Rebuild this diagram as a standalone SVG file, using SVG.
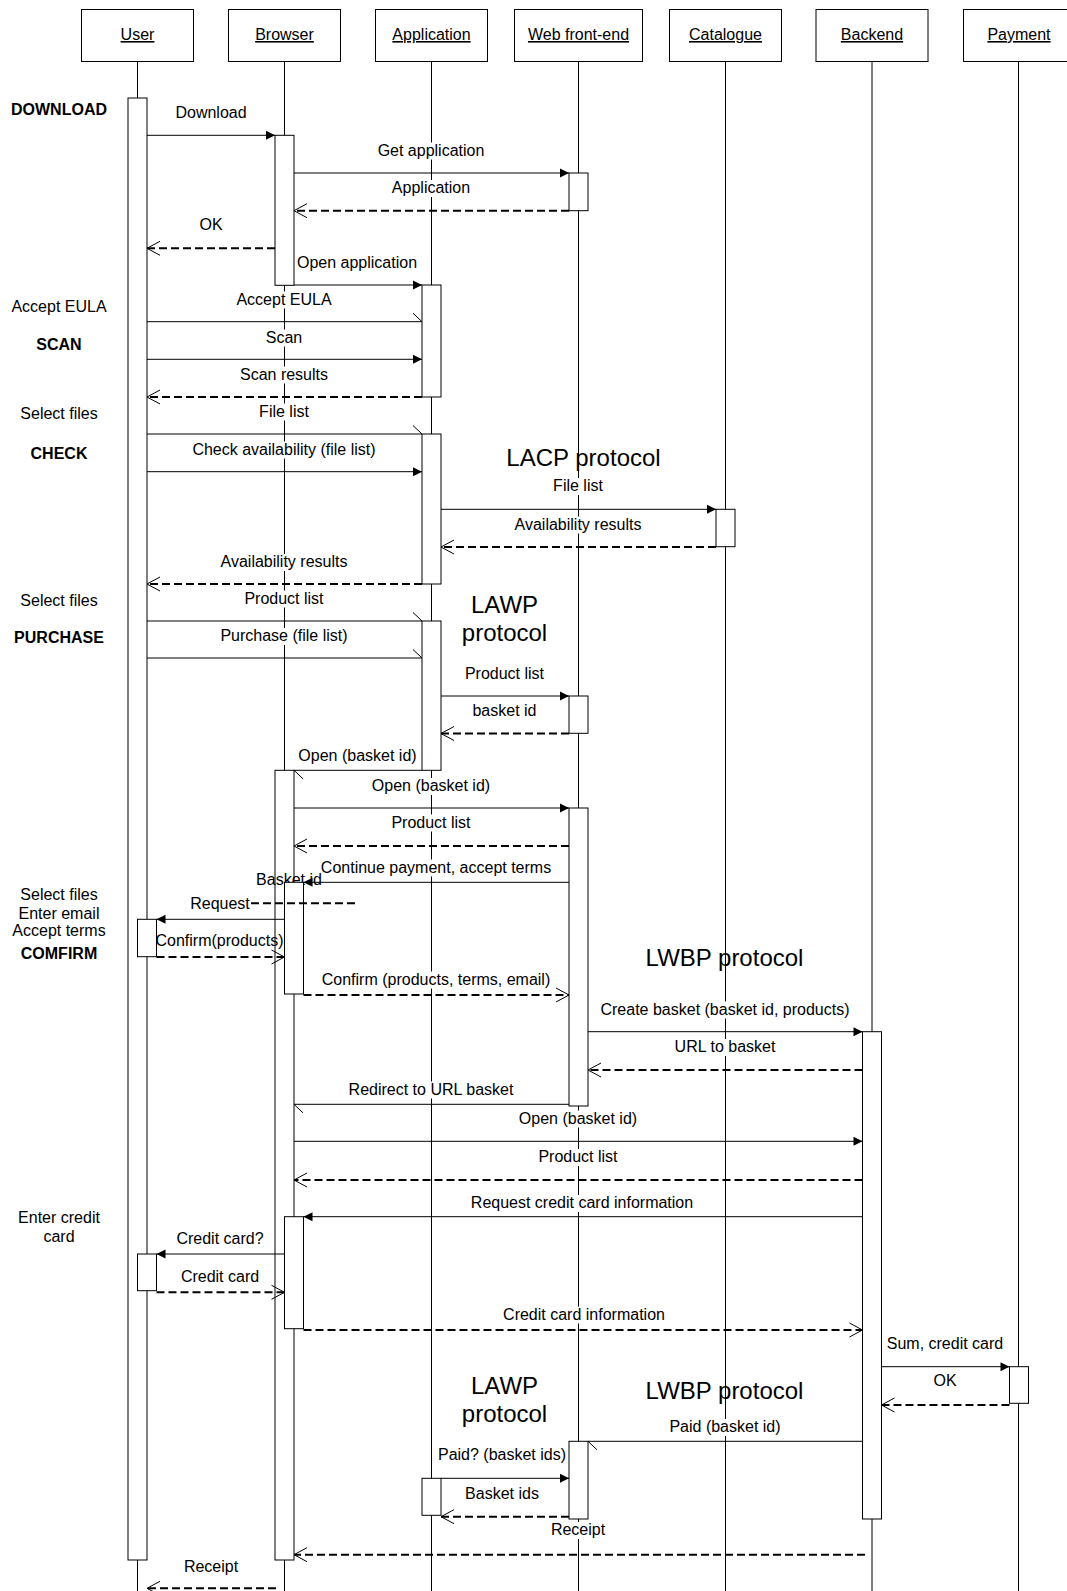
<svg xmlns="http://www.w3.org/2000/svg" width="1067" height="1591" viewBox="0 0 1067 1591">
<style>
text{font-family:"Liberation Sans",Arial,sans-serif;font-size:16px;fill:#000}
.c{text-anchor:middle}
.b{font-weight:bold}
.p{font-size:24px}
.lbl text{text-anchor:middle}
.hd text{text-decoration:underline;text-anchor:middle}
.box{fill:#fff;stroke:#000;stroke-width:1}
.life{stroke:#000;stroke-width:1}
.gap{fill:#fff}
.act{fill:#fff;stroke:#000;stroke-width:1}
.m{stroke:#000;stroke-width:1;fill:none}
.f{marker-end:url(#mf)}
.h{marker-end:url(#mh)}
.r{stroke-dasharray:8 4;stroke-width:2;marker-end:url(#mo)}
.d{stroke-dasharray:8 4;stroke-width:2}
</style>
<defs>
<marker id="mf" markerUnits="userSpaceOnUse" viewBox="-10 -5 10 10" refX="0" refY="0" markerWidth="10" markerHeight="10" orient="auto"><path d="M-9,-4.5 L0,0 L-9,4.5 z" fill="#000"/></marker>
<marker id="mo" markerUnits="userSpaceOnUse" viewBox="-15 -8 16 16" refX="0" refY="0" markerWidth="16" markerHeight="16" orient="auto"><path d="M-13,-7 L0,0 L-13,7" fill="none" stroke="#000" stroke-width="1"/></marker>
<marker id="mh" markerUnits="userSpaceOnUse" viewBox="-10 -10 11 11" refX="0" refY="0" markerWidth="11" markerHeight="11" orient="auto"><path d="M-9,-8.5 L0,0" fill="none" stroke="#000" stroke-width="1"/></marker>
</defs>
<rect width="1067" height="1591" fill="#fff"/>

<g id="participants" class="hd">
<g id="user"><line class="life" x1="137.5" y1="61" x2="137.5" y2="1591"/><rect class="box" x="81.5" y="9.5" width="112" height="52"/><text x="137.5" y="40">User</text></g>
<g id="browser"><line class="life" x1="284.5" y1="61" x2="284.5" y2="1591"/><rect class="box" x="228.5" y="9.5" width="112" height="52"/><text x="284.5" y="40">Browser</text></g>
<g id="application"><line class="life" x1="431.5" y1="61" x2="431.5" y2="1591"/><rect class="box" x="375.5" y="9.5" width="112" height="52"/><text x="431.5" y="40">Application</text></g>
<g id="webfrontend"><line class="life" x1="578.5" y1="61" x2="578.5" y2="1591"/><rect class="box" x="514.5" y="9.5" width="128" height="52"/><text x="578.5" y="40">Web front-end</text></g>
<g id="catalogue"><line class="life" x1="725.5" y1="61" x2="725.5" y2="1591"/><rect class="box" x="669.5" y="9.5" width="112" height="52"/><text x="725.5" y="40">Catalogue</text></g>
<g id="backend"><line class="life" x1="872" y1="61" x2="872" y2="1591"/><rect class="box" x="816" y="9.5" width="112" height="52"/><text x="872" y="40">Backend</text></g>
<g id="payment"><line class="life" x1="1018.5" y1="61" x2="1018.5" y2="1591"/><rect class="box" x="963.5" y="9.5" width="112" height="52"/><text x="1019" y="40">Payment</text></g>
</g>

<g id="label-backgrounds">
<rect class="gap" x="429.5" y="142.5" width="4" height="17"/>
<rect class="gap" x="429.5" y="180" width="4" height="17"/>
<rect class="gap" x="282.5" y="291.5" width="4" height="17"/>
<rect class="gap" x="282.5" y="329.5" width="4" height="17"/>
<rect class="gap" x="282.5" y="366.5" width="4" height="17"/>
<rect class="gap" x="282.5" y="403.5" width="4" height="17"/>
<rect class="gap" x="282.5" y="441.5" width="4" height="17"/>
<rect class="gap" x="576.5" y="478" width="4" height="17"/>
<rect class="gap" x="576.5" y="516.5" width="4" height="17"/>
<rect class="gap" x="282.5" y="554" width="4" height="17"/>
<rect class="gap" x="282.5" y="590.5" width="4" height="17"/>
<rect class="gap" x="282.5" y="628" width="4" height="17"/>
<rect class="gap" x="429.5" y="778" width="4" height="17"/>
<rect class="gap" x="429.5" y="814.5" width="4" height="17"/>
<rect class="gap" x="429.5" y="859.5" width="4" height="17"/>
<rect class="gap" x="429.5" y="971.5" width="4" height="17"/>
<rect class="gap" x="723.5" y="1001.5" width="4" height="17"/>
<rect class="gap" x="723.5" y="1039" width="4" height="17"/>
<rect class="gap" x="429.5" y="1081.5" width="4" height="17"/>
<rect class="gap" x="576.5" y="1110.5" width="4" height="17"/>
<rect class="gap" x="576.5" y="1149" width="4" height="17"/>
<rect class="gap" x="576.5" y="1195" width="4" height="17"/>
<rect class="gap" x="576.5" y="1306.5" width="4" height="17"/>
<rect class="gap" x="723.5" y="1419" width="4" height="17"/>
<rect class="gap" x="576.5" y="1522" width="4" height="17"/>
</g>

<g id="activations">
<rect class="act" x="128" y="98" width="19" height="1462"/>
<rect class="act" x="137.5" y="919.3" width="19" height="37.4"/>
<rect class="act" x="137.5" y="1254" width="19" height="36.7"/>
<rect class="act" x="275" y="135.3" width="19" height="150"/>
<rect class="act" x="275" y="770.3" width="19" height="789.7"/>
<text class="c" x="289" y="884.5">Basket id</text>
<rect class="act" x="284.5" y="882.3" width="19" height="111.7"/>
<rect class="act" x="284.5" y="1216.7" width="19" height="112"/>
<rect class="act" x="422" y="285" width="19" height="112"/>
<rect class="act" x="422" y="434" width="19" height="150"/>
<rect class="act" x="422" y="621" width="19" height="149.3"/>
<rect class="act" x="422" y="1478.3" width="19" height="37"/>
<rect class="act" x="569" y="173" width="19" height="37.7"/>
<rect class="act" x="569" y="696" width="19" height="37.3"/>
<rect class="act" x="569" y="808" width="19" height="298"/>
<rect class="act" x="569" y="1441.3" width="19" height="77.7"/>
<rect class="act" x="716" y="509.3" width="19" height="37.4"/>
<rect class="act" x="862.5" y="1031.7" width="19" height="487.3"/>
<rect class="act" x="1009.5" y="1366.7" width="19" height="36.6"/>
</g>

<g id="message-labels" class="lbl">
<text x="211" y="117.5">Download</text>
<text x="431" y="155.5">Get application</text>
<text x="431" y="193">Application</text>
<text x="211" y="229.5">OK</text>
<text x="357" y="267.5">Open application</text>
<text x="284" y="304.5">Accept EULA</text>
<text x="284" y="342.5">Scan</text>
<text x="284" y="379.5">Scan results</text>
<text x="284" y="416.5">File list</text>
<text x="284" y="454.5">Check availability (file list)</text>
<text x="578" y="491">File list</text>
<text x="578" y="529.5">Availability results</text>
<text x="284" y="567">Availability results</text>
<text x="284" y="603.5">Product list</text>
<text x="284" y="641">Purchase (file list)</text>
<text x="504.5" y="678.5">Product list</text>
<text x="504.5" y="716">basket id</text>
<text x="357.5" y="761">Open (basket id)</text>
<text x="431" y="791">Open (basket id)</text>
<text x="431" y="827.5">Product list</text>
<text x="436" y="872.5">Continue payment, accept terms</text>
<text x="220" y="909">Request</text>
<text x="219.5" y="946">Confirm(products)</text>
<text x="436" y="984.5">Confirm (products, terms, email)</text>
<text x="725" y="1014.5">Create basket (basket id, products)</text>
<text x="725" y="1052">URL to basket</text>
<text x="431" y="1094.5">Redirect to URL basket</text>
<text x="578" y="1123.5">Open (basket id)</text>
<text x="578" y="1162">Product list</text>
<text x="582" y="1208">Request credit card information</text>
<text x="220" y="1243.5">Credit card?</text>
<text x="220" y="1281.5">Credit card</text>
<text x="584" y="1319.5">Credit card information</text>
<text x="945" y="1348.5">Sum, credit card</text>
<text x="945" y="1386">OK</text>
<text x="725" y="1432">Paid (basket id)</text>
<text x="502" y="1460">Paid? (basket ids)</text>
<text x="502" y="1498.5">Basket ids</text>
<text x="578" y="1535">Receipt</text>
<text x="211" y="1572">Receipt</text>
</g>

<g id="connectors">
<line class="m f" x1="147" y1="135.3" x2="275" y2="135.3"/>
<line class="m f" x1="294" y1="173" x2="569" y2="173"/>
<line class="m r" x1="569" y1="210.7" x2="294" y2="210.7"/>
<line class="m r" x1="275" y1="248.3" x2="147" y2="248.3"/>
<line class="m f" x1="294" y1="285" x2="422" y2="285"/>
<line class="m h" x1="147" y1="321.7" x2="422" y2="321.7"/>
<line class="m f" x1="147" y1="359.3" x2="422" y2="359.3"/>
<line class="m r" x1="422" y1="397" x2="147" y2="397"/>
<line class="m h" x1="147" y1="434" x2="422" y2="434"/>
<line class="m f" x1="147" y1="471.7" x2="422" y2="471.7"/>
<line class="m f" x1="441" y1="509.3" x2="716" y2="509.3"/>
<line class="m r" x1="716" y1="547" x2="441" y2="547"/>
<line class="m r" x1="422" y1="584" x2="147" y2="584"/>
<line class="m h" x1="147" y1="621" x2="422" y2="621"/>
<line class="m h" x1="147" y1="658" x2="422" y2="658"/>
<line class="m f" x1="441" y1="696" x2="569" y2="696"/>
<line class="m r" x1="569" y1="733.5" x2="441" y2="733.5"/>
<line class="m h" x1="422" y1="770.3" x2="294" y2="770.3"/>
<line class="m f" x1="294" y1="808" x2="569" y2="808"/>
<line class="m r" x1="569" y1="846" x2="294" y2="846"/>
<line class="m f" x1="569" y1="882.3" x2="303.5" y2="882.3"/>
<line class="m d" x1="251" y1="903.3" x2="356" y2="903.3"/>
<line class="m f" x1="284.5" y1="919.3" x2="156.5" y2="919.3"/>
<line class="m r" x1="156.5" y1="957" x2="284.5" y2="957"/>
<line class="m r" x1="303.5" y1="995" x2="569" y2="995"/>
<line class="m f" x1="588" y1="1031.7" x2="862.5" y2="1031.7"/>
<line class="m r" x1="862.5" y1="1070" x2="588" y2="1070"/>
<line class="m h" x1="569" y1="1104.3" x2="294" y2="1104.3"/>
<line class="m f" x1="294" y1="1141.3" x2="862.5" y2="1141.3"/>
<line class="m r" x1="862.5" y1="1180" x2="294" y2="1180"/>
<line class="m f" x1="862.5" y1="1216.7" x2="303.5" y2="1216.7"/>
<line class="m f" x1="284.5" y1="1254" x2="156.5" y2="1254"/>
<line class="m r" x1="156.5" y1="1292.3" x2="284.5" y2="1292.3"/>
<line class="m r" x1="303.5" y1="1330" x2="862.5" y2="1330"/>
<line class="m f" x1="881.5" y1="1366.7" x2="1009.5" y2="1366.7"/>
<line class="m r" x1="1009.5" y1="1405" x2="881.5" y2="1405"/>
<line class="m h" x1="862.5" y1="1441.3" x2="588" y2="1441.3"/>
<line class="m f" x1="441" y1="1478.3" x2="569" y2="1478.3"/>
<line class="m r" x1="569" y1="1516.7" x2="441" y2="1516.7"/>
<line class="m r" x1="865" y1="1554.7" x2="294" y2="1554.7"/>
<line class="m r" x1="276" y1="1588.3" x2="147" y2="1588.3"/>
</g>

<g id="phase-labels" class="c">
<text class="b" x="59" y="115">DOWNLOAD</text>
<text x="59" y="312">Accept EULA</text>
<text class="b" x="59" y="349.5">SCAN</text>
<text x="59" y="418.5">Select files</text>
<text class="b" x="59" y="458.5">CHECK</text>
<text x="59" y="606">Select files</text>
<text class="b" x="59" y="642.5">PURCHASE</text>
<text x="59" y="899.5">Select files</text>
<text x="59" y="918.5">Enter email</text>
<text x="59" y="936">Accept terms</text>
<text class="b" x="59" y="958.5">COMFIRM</text>
<text x="59" y="1223">Enter credit</text>
<text x="59" y="1241.5">card</text>
</g>

<g id="protocol-labels" class="c">
<text class="p" x="583.5" y="465.5">LACP protocol</text>
<text class="p" x="504.5" y="613">LAWP</text>
<text class="p" x="504.5" y="641">protocol</text>
<text class="p" x="724.5" y="966">LWBP protocol</text>
<text class="p" x="504.5" y="1394">LAWP</text>
<text class="p" x="504.5" y="1422">protocol</text>
<text class="p" x="724.5" y="1398.5">LWBP protocol</text>
</g>
</svg>
